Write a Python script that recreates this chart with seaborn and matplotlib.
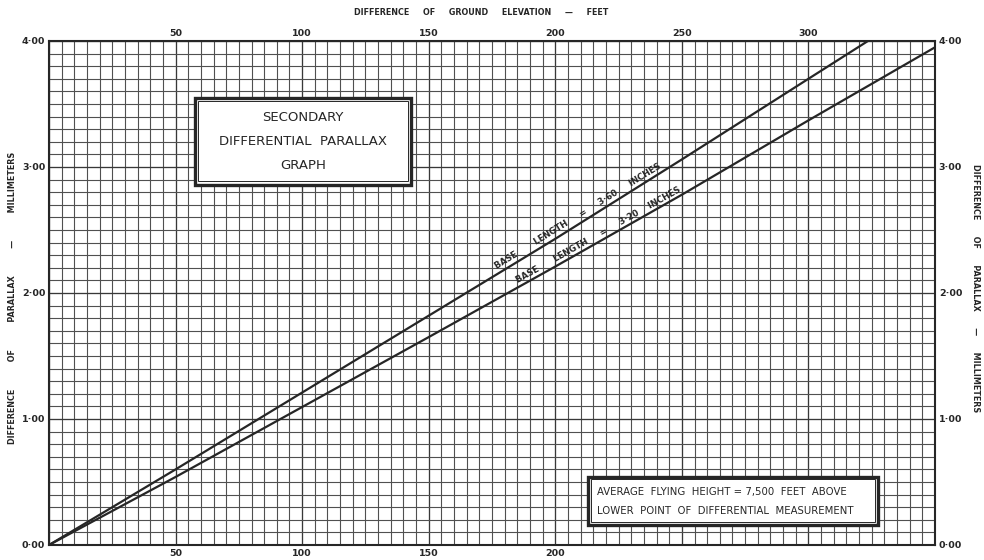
import numpy as np
import pandas as pd
import seaborn as sns
import matplotlib.ticker as mtick
from matplotlib import pyplot as plt
from matplotlib.patches import Rectangle

# values
elev_360 = [0, 50, 100, 150, 200, 250, 300, 323.5]
parallax_360 = [0.0, 0.60, 1.21, 1.82, 2.43, 3.06, 3.70, 4.00]
elev_320 = [0, 50, 100, 150, 200, 250, 300, 350]
parallax_320 = [0.0, 0.54, 1.095, 1.65, 2.21, 2.78, 3.37, 3.95]

top_ticks = [50, 100, 150, 200, 250, 300]
bottom_ticks = [50, 100, 150, 200]
y_ticks = [0, 1, 2, 3, 4]

ink = '#262626'
grid_col = '#505050'

sns.set_style("white")
plt.rcParams['font.family'] = ['DejaVu Sans']

df = pd.concat([
    pd.DataFrame({'elev': elev_360, 'par': parallax_360, 'base': '3.60'}),
    pd.DataFrame({'elev': elev_320, 'par': parallax_320, 'base': '3.20'}),
])

fig = plt.figure(figsize=(9.84, 5.6), dpi=100)
ax = fig.add_axes([49 / 984, 15 / 560, 886 / 984, 504 / 560])

ax.set_xlim(0, 350)
ax.set_ylim(0, 4)

# graph paper grid
ax.xaxis.set_minor_locator(mtick.MultipleLocator(5))
ax.yaxis.set_minor_locator(mtick.MultipleLocator(0.1))
ax.xaxis.set_major_locator(mtick.MultipleLocator(50))
ax.yaxis.set_major_locator(mtick.MultipleLocator(1))
ax.grid(which='minor', color=grid_col, lw=0.8)
ax.grid(which='major', color='#383838', lw=0.95)
ax.tick_params(which='both', length=0, labelbottom=False, labelleft=False)
ax.set_axisbelow(True)
for s in ax.spines.values():
    s.set_color(ink)
    s.set_linewidth(1.5)

sns.lineplot(data=df, x='elev', y='par', hue='base', palette=[ink, ink],
             linewidth=1.6, legend=False, ax=ax, zorder=3)
ax.set_xlabel('')
ax.set_ylabel('')

tick_font = dict(fontsize=6.8, fontweight='bold', color=ink)
for t in top_ticks:
    ax.text(t, 4.02, str(t), ha='center', va='bottom', **tick_font)
for t in bottom_ticks:
    ax.text(t, -0.03, str(t), ha='center', va='top', **tick_font)
for t in y_ticks:
    lab = '%d·00' % t
    ax.text(-1.5, t, lab, ha='right', va='center', **tick_font)
    ax.text(351.5, t, lab, ha='left', va='center', **tick_font)

lab_font = dict(fontsize=5.8, fontweight='bold', color=ink)
fig.text(0.489, 0.978, 'DIFFERENCE     OF     GROUND     ELEVATION     —     FEET',
         ha='center', va='center', **lab_font)
fig.text(0.013, 0.468, 'DIFFERENCE          OF          PARALLAX          —          MILLIMETERS',
         ha='center', va='center', rotation=90, **lab_font)
fig.text(0.991, 0.486, 'DIFFERENCE      OF      PARALLAX      —      MILLIMETERS',
         ha='center', va='center', rotation=-90, **lab_font)

# labels along the two lines
line_font = dict(fontsize=6.2, fontweight='bold', color=ink)
ax.text(210, 2.58, 'BASE       LENGTH     =     3·60     INCHES', rotation=31.6,
        rotation_mode='anchor', ha='center', va='bottom', zorder=4, **line_font)
ax.text(218, 2.43, 'BASE      LENGTH     =     3·20    INCHES', rotation=29.3,
        rotation_mode='anchor', ha='center', va='bottom', zorder=4, **line_font)

# title box
ax.add_patch(Rectangle((57.7, 2.86), 85.3, 0.69, facecolor='white',
                       edgecolor=ink, lw=2.4, zorder=5))
ax.add_patch(Rectangle((59.0, 2.885), 82.7, 0.64, facecolor='none',
                       edgecolor=ink, lw=0.7, zorder=6))
ax.text(100.3, 3.39, 'SECONDARY', ha='center', va='center', fontsize=9.5,
        color=ink, zorder=7)
ax.text(100.3, 3.20, 'DIFFERENTIAL  PARALLAX', ha='center', va='center',
        fontsize=9.5, color=ink, zorder=7)
ax.text(100.3, 3.01, 'GRAPH', ha='center', va='center', fontsize=9.5,
        color=ink, zorder=7)

# note box
ax.add_patch(Rectangle((212.9, 0.16), 114.5, 0.38, facecolor='white',
                       edgecolor=ink, lw=2.4, zorder=5))
ax.add_patch(Rectangle((214.1, 0.18), 112.1, 0.34, facecolor='none',
                       edgecolor=ink, lw=0.7, zorder=6))
ax.text(216.5, 0.42, 'AVERAGE  FLYING  HEIGHT = 7,500  FEET  ABOVE',
        ha='left', va='center', fontsize=7.3, color=ink, zorder=7)
ax.text(216.5, 0.27, 'LOWER  POINT  OF  DIFFERENTIAL  MEASUREMENT',
        ha='left', va='center', fontsize=7.3, color=ink, zorder=7)

plt.savefig('out.png', dpi=100, facecolor='white')
plt.close()
